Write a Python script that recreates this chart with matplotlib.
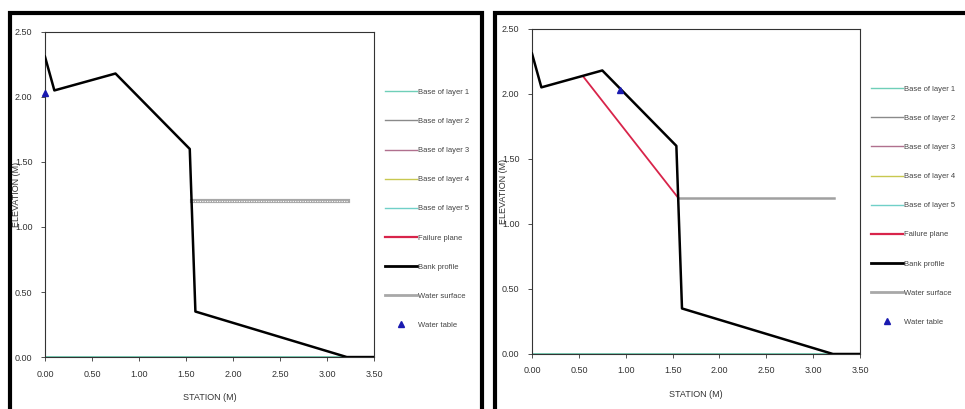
import matplotlib.pyplot as plt
from matplotlib.patches import Rectangle
from matplotlib.lines import Line2D

plt.rcParams['font.family'] = ['Liberation Sans Narrow', 'Liberation Sans', 'DejaVu Sans']

# bank geometry (same in both runs)
bank_x = [0.00, 0.10, 0.75, 1.54, 1.60, 3.21, 3.50]
bank_y = [2.31, 2.05, 2.18, 1.60, 0.35, 0.00, 0.00]
layer_x = [0.00, 3.20]
layer_y = [0.00, 0.00]
water_x = [1.56, 3.22]
water_y = [1.20, 1.20]

# left run: no failure plane, water table at bank toe of the top
wt_left = (0.00, 2.03)
# right run: failure plane and water table
fail_x = [0.55, 1.56]
fail_y = [2.13, 1.20]
wt_right = (0.94, 2.03)

xticks = [0.0, 0.5, 1.0, 1.5, 2.0, 2.5, 3.0, 3.5]
yticks = [0.0, 0.5, 1.0, 1.5, 2.0, 2.5]

layer_names = ['Base of layer 1', 'Base of layer 2', 'Base of layer 3',
               'Base of layer 4', 'Base of layer 5']
layer_colors = ['#6fcfb8', '#8a8a8a', '#b0708e', '#c8c850', '#70d0c8']


def draw_panel(ax, with_fail, wt, water_style):
    for i, name in enumerate(layer_names):
        ax.plot(layer_x, layer_y, color=layer_colors[i], lw=1.2, zorder=2 + i * 0.1)
    if water_style == 'hatch':
        ax.plot(water_x, water_y, color='#a8a8a8', lw=3.0, zorder=3)
        ax.plot(water_x, water_y, color='white', lw=0.8, ls=(0, (1, 1.2)), zorder=3.1)
    else:
        ax.plot(water_x, water_y, color='#a0a0a0', lw=1.8, zorder=3)
    if with_fail:
        ax.plot(fail_x, fail_y, color='#d8244a', lw=1.3, zorder=4)
    ax.plot(bank_x, bank_y, color='black', lw=1.8, zorder=5)
    ax.plot([wt[0]], [wt[1]], marker='^', color='#1a1ab0', ms=5, ls='none', zorder=6,
            clip_on=False)

    ax.set_xlim(0, 3.5)
    ax.set_ylim(0, 2.5)
    ax.set_xticks(xticks)
    ax.set_yticks(yticks)
    ax.set_xticklabels([f'{t:.2f}' for t in xticks])
    ax.set_yticklabels([f'{t:.2f}' for t in yticks])
    ax.tick_params(axis='both', labelsize=6.5, length=3, width=0.6, colors='#333333',
                   direction='out', pad=6)
    for s in ax.spines.values():
        s.set_linewidth(0.8)
        s.set_color('#333333')
    ax.set_xlabel('STATION (M)', fontsize=6.5, color='#333333')
    ax.set_ylabel('ELEVATION (M)', fontsize=6.5, color='#333333')
    # the label sits over the tick labels, as in the source figure
    ax.yaxis.set_label_coords(-0.074, 0.5)
    ax.xaxis.set_label_coords(0.5, -0.11)

    handles = [Line2D([], [], color=c, lw=1.0) for c in layer_colors]
    handles.append(Line2D([], [], color='#d8244a', lw=1.6))
    handles.append(Line2D([], [], color='black', lw=2.0))
    handles.append(Line2D([], [], color='#a8a8a8', lw=2.0))
    handles.append(Line2D([], [], color='#1a1ab0', marker='^', ls='none', ms=4))
    labels = layer_names + ['Failure plane', 'Bank profile', 'Water surface', 'Water table']
    leg = ax.legend(handles, labels, loc='upper left', bbox_to_anchor=(1.025, 0.835),
                    frameon=False, fontsize=5.5, labelspacing=2.85, handlelength=4.2,
                    handletextpad=0.1, borderaxespad=0)
    for t in leg.get_texts():
        t.set_color('#444444')


fig = plt.figure(figsize=(9.65, 4.09), dpi=100)
ax1 = fig.add_axes([0.0466, 0.127, 0.341, 0.795])
ax2 = fig.add_axes([0.5513, 0.1345, 0.340, 0.795])

draw_panel(ax1, False, wt_left, 'hatch')
draw_panel(ax2, True, wt_right, 'solid')

# thick frames around each panel
fig.add_artist(Rectangle((10 / 965, -0.05), (482 - 10) / 965, 1.05 - 13.5 / 409,
                         transform=fig.transFigure, fill=False, ec='black', lw=3))
fig.add_artist(Rectangle((495 / 965, -0.05), 0.6, 1.05 - 13 / 409,
                         transform=fig.transFigure, fill=False, ec='black', lw=3))

plt.savefig('out.png', dpi=100)
